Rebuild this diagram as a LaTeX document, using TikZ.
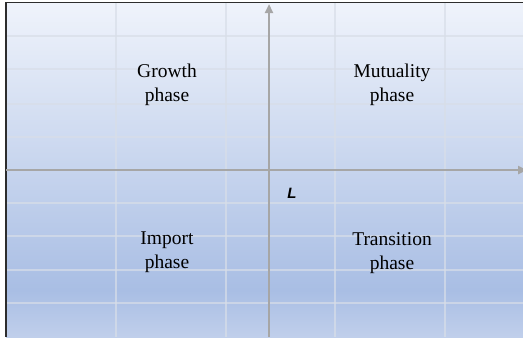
\documentclass[tikz,border=0pt]{standalone}
\usepackage{fontspec}
\setmainfont{Liberation Serif}
\newfontfamily\labelsans{Liberation Sans}
\usetikzlibrary{arrows.meta}
\definecolor{bgtop}{RGB}{239,243,251}
\definecolor{bgmid}{RGB}{169,190,228}
\definecolor{bgbot}{RGB}{192,207,235}
\definecolor{gridc}{RGB}{216,222,232}
\definecolor{axisc}{RGB}{166,166,166}
\definecolor{framec}{RGB}{45,45,45}
\tikzset{
  gridline/.style={draw=gridc, line width=1.6bp, opacity=0.7},
  axisline/.style={draw=axisc, line width=2.8bp, -{Triangle[length=9bp,width=8bp]}},
  phase/.style={align=center, font=\fontsize{19.5bp}{24bp}\selectfont, inner sep=0pt},
  axislabel/.style={font=\labelsans\bfseries\itshape\fontsize{15bp}{17bp}\selectfont, inner sep=0pt}
}
\begin{document}
\begin{tikzpicture}[x=1bp,y=-1bp]
\useasboundingbox (0,0) rectangle (523,337);
% background with vertical gradient
\fill[white] (0,0) rectangle (523,337);
\shade[top color=bgtop, bottom color=bgmid] (6,3) rectangle (523,290);
\shade[top color=bgmid, bottom color=bgbot] (6,290) rectangle (523,337);
% grid
\foreach \gx in {116,226,335,445} \draw[gridline] (\gx,3) -- (\gx,337);
\foreach \gy in {36,69,104,137,203,236,270,303} \draw[gridline] (6,\gy) -- (523,\gy);
% frame
\draw[framec, line width=1.4bp] (6,337) -- (6,2.5) -- (523,2.5);
% axes
\coordinate (ybot) at (269,337);
\coordinate (ytop) at (269,4);
\coordinate (xleft) at (6,170);
\coordinate (xright) at (527,170);
\draw[axisline] (ybot) -- (ytop);
\draw[axisline] (xleft) -- (xright);
% quadrant labels
\node[phase] (growth) at (167,85) {Growth\\phase};
\node[phase] (mutual) at (392,85) {Mutuality\\phase};
\node[phase] (import) at (167,252) {Import\\phase};
\node[phase] (trans) at (392,253) {Transition\\phase};
\node[axislabel] (L) at (292,193) {L};
\end{tikzpicture}
\end{document}
